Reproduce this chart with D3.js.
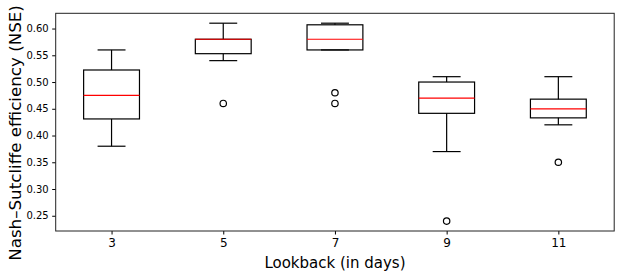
<!DOCTYPE html>
<html><head><meta charset="utf-8">
<script src="https://cdn.jsdelivr.net/npm/d3@7"></script>
<style>body{margin:0;background:#fff}svg{display:block}text{font-family:"DejaVu Sans",sans-serif}</style>
</head><body><svg id="c" width="620" height="277"></svg>
<script>
const categories = ["3","5","7","9","11"];
const whiskerLow  = [0.38, 0.54, 0.56, 0.37, 0.42];
const q1          = [0.431, 0.553, 0.56, 0.4415, 0.433];
const medians     = [0.475, 0.58, 0.58, 0.47, 0.45];
const q3          = [0.5225, 0.58, 0.607, 0.50, 0.468];
const whiskerHigh = [0.56, 0.61, 0.61, 0.51, 0.51];
const outliers    = [[], [0.46], [0.48, 0.46], [0.24], [0.35]];
const yTicks = [0.25,0.30,0.35,0.40,0.45,0.50,0.55,0.60];

const svg = d3.select("#c");
const L=55.7, R=614.2, T=13.3, B=231;
const x = d3.scaleLinear().domain([0.5,5.5]).range([L,R]);
const y = d3.scaleLinear().domain([0.2215,0.6285]).range([B,T]);

const g = svg.append("g");
categories.forEach((c,i)=>{
  const cx = x(i+1), hw = x(0.25)-x(0), cw = x(0.125)-x(0);
  const gg = g.append("g").attr("stroke","#000").attr("stroke-width",1.2).attr("fill","none");
  gg.append("line").attr("x1",cx).attr("x2",cx).attr("y1",y(whiskerLow[i])).attr("y2",y(q1[i]));
  gg.append("line").attr("x1",cx).attr("x2",cx).attr("y1",y(q3[i])).attr("y2",y(whiskerHigh[i]));
  gg.append("line").attr("x1",cx-cw).attr("x2",cx+cw).attr("y1",y(whiskerLow[i])).attr("y2",y(whiskerLow[i]));
  gg.append("line").attr("x1",cx-cw).attr("x2",cx+cw).attr("y1",y(whiskerHigh[i])).attr("y2",y(whiskerHigh[i]));
  gg.append("rect").attr("x",cx-hw).attr("width",2*hw).attr("y",y(q3[i])).attr("height",y(q1[i])-y(q3[i]));
  gg.append("line").attr("x1",cx-hw).attr("x2",cx+hw).attr("y1",y(medians[i])).attr("y2",y(medians[i])).attr("stroke","#f00");
  outliers[i].forEach(v=>gg.append("circle").attr("cx",cx).attr("cy",y(v)).attr("r",3.2));
});

const xa = svg.append("g").attr("transform",`translate(0,${B})`)
  .call(d3.axisBottom(x).tickValues([1,2,3,4,5]).tickFormat((d,i)=>categories[i]).tickSize(3.5).tickPadding(4));
xa.selectAll("text").attr("font-size",12).attr("fill","#000");
const ya = svg.append("g").attr("transform",`translate(${L},0)`)
  .call(d3.axisLeft(y).tickValues(yTicks).tickFormat(d3.format(".2f")).tickSize(3.5).tickPadding(3.5));
ya.selectAll("text").attr("font-size",10).attr("fill","#000");
[xa,ya].forEach(a=>{a.select(".domain").remove();a.selectAll("line").attr("stroke","#000");a.attr("font-family",null);});
svg.append("rect").attr("x",L).attr("y",T).attr("width",R-L).attr("height",B-T)
  .attr("fill","none").attr("stroke","#222").attr("stroke-width",1);

svg.append("text").attr("x",(L+R)/2).attr("y",268).attr("text-anchor","middle").attr("font-size",15).text("Lookback (in days)");
svg.append("text").attr("transform",`translate(21,133) rotate(-90)`).attr("text-anchor","middle").attr("font-size",16.7).text("Nash–Sutcliffe efficiency (NSE)");
</script></body></html>
